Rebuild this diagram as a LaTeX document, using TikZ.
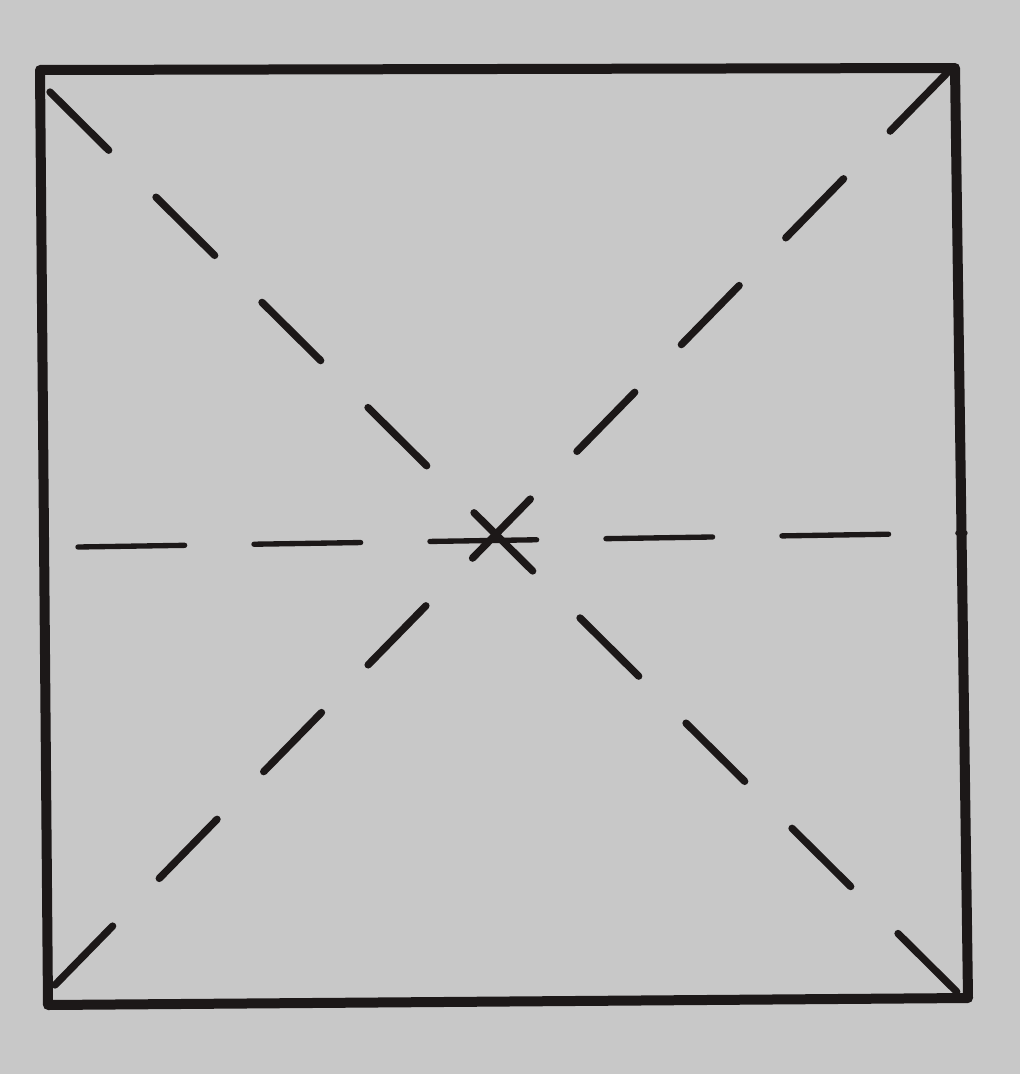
\documentclass[tikz,border=0pt]{standalone}
\usepackage{tikz}

\definecolor{paper}{RGB}{200,200,200}
\definecolor{ink}{RGB}{28,24,24}

\tikzset{every picture/.style={line width=0.75pt}}
\tikzset{
  frame/.style={draw=ink,line width=7.5pt,line cap=round,line join=round},
  diag/.style={draw=ink,line width=5.5pt,line cap=round,dash pattern={on 62pt off 50pt}},
  midline/.style={draw=ink,line width=4pt,line cap=round,dash pattern={on 80pt off 52pt}}
}

\begin{document}
\begin{tikzpicture}[x=0.75pt,y=0.75pt,yscale=-1,xscale=1]
%background
\fill [paper] (0,0) rectangle (1020,1074);
\useasboundingbox (0,0) rectangle (1020,1074);

%corners of the square
\coordinate (tl) at (40,70);
\coordinate (tr) at (955,68);
\coordinate (br) at (968,998);
\coordinate (bl) at (48,1005);

%Shape: Square
\draw [frame] (tl) -- (tr) -- (br) -- (bl) -- cycle;

%Straight Lines: diagonal top left to bottom right
\draw [diag] (50,92) -- (960,995);
%Straight Lines: diagonal top right to bottom left
\draw [diag] (948,72) -- (55,985);
%Straight Lines: dashed middle line
\draw [midline] (78,547) -- (965,533);

\end{tikzpicture}
\end{document}
